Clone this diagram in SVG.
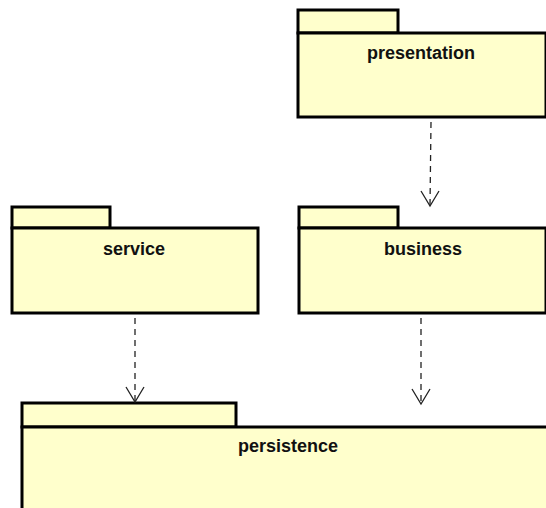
<svg xmlns="http://www.w3.org/2000/svg" width="546" height="508" viewBox="0 0 546 508">
  <style>
    .pkg { fill: #ffffcc; stroke: #000; stroke-width: 3; }
    .label { font-family: "Liberation Sans", Arial, sans-serif; font-weight: bold; font-size: 18px; fill: #111; text-anchor: middle; }
    .dep { stroke: #222; stroke-width: 1.3; stroke-dasharray: 6 5; fill: none; }
    .head { stroke: #222; stroke-width: 1.3; fill: none; }
  </style>
  <rect width="546" height="508" fill="#fff"/>

  <g id="presentation">
    <rect class="pkg" x="298" y="10" width="100" height="23"/>
    <rect class="pkg" x="298" y="33" width="248" height="84"/>
    <text class="label" x="421" y="59">presentation</text>
  </g>

  <g id="service">
    <rect class="pkg" x="12" y="207" width="98" height="21"/>
    <rect class="pkg" x="12" y="228" width="246" height="85"/>
    <text class="label" x="134" y="255">service</text>
  </g>

  <g id="business">
    <rect class="pkg" x="299" y="207" width="99" height="21"/>
    <rect class="pkg" x="299" y="228" width="247" height="85"/>
    <text class="label" x="423" y="255">business</text>
  </g>

  <g id="persistence">
    <rect class="pkg" x="22" y="403" width="214" height="24"/>
    <rect class="pkg" x="22" y="427" width="530" height="90"/>
    <text class="label" x="288" y="452">persistence</text>
  </g>

  <g id="connectors">
    <line class="dep" x1="431" y1="122" x2="430" y2="206"/>
    <polyline class="head" points="421,191 430,206 439,191"/>
    <line class="dep" x1="135" y1="318" x2="135" y2="402"/>
    <polyline class="head" points="126,387 135,402 144,387"/>
    <line class="dep" x1="421" y1="318" x2="421" y2="404"/>
    <polyline class="head" points="412,389 421,404 430,389"/>
  </g>
</svg>
